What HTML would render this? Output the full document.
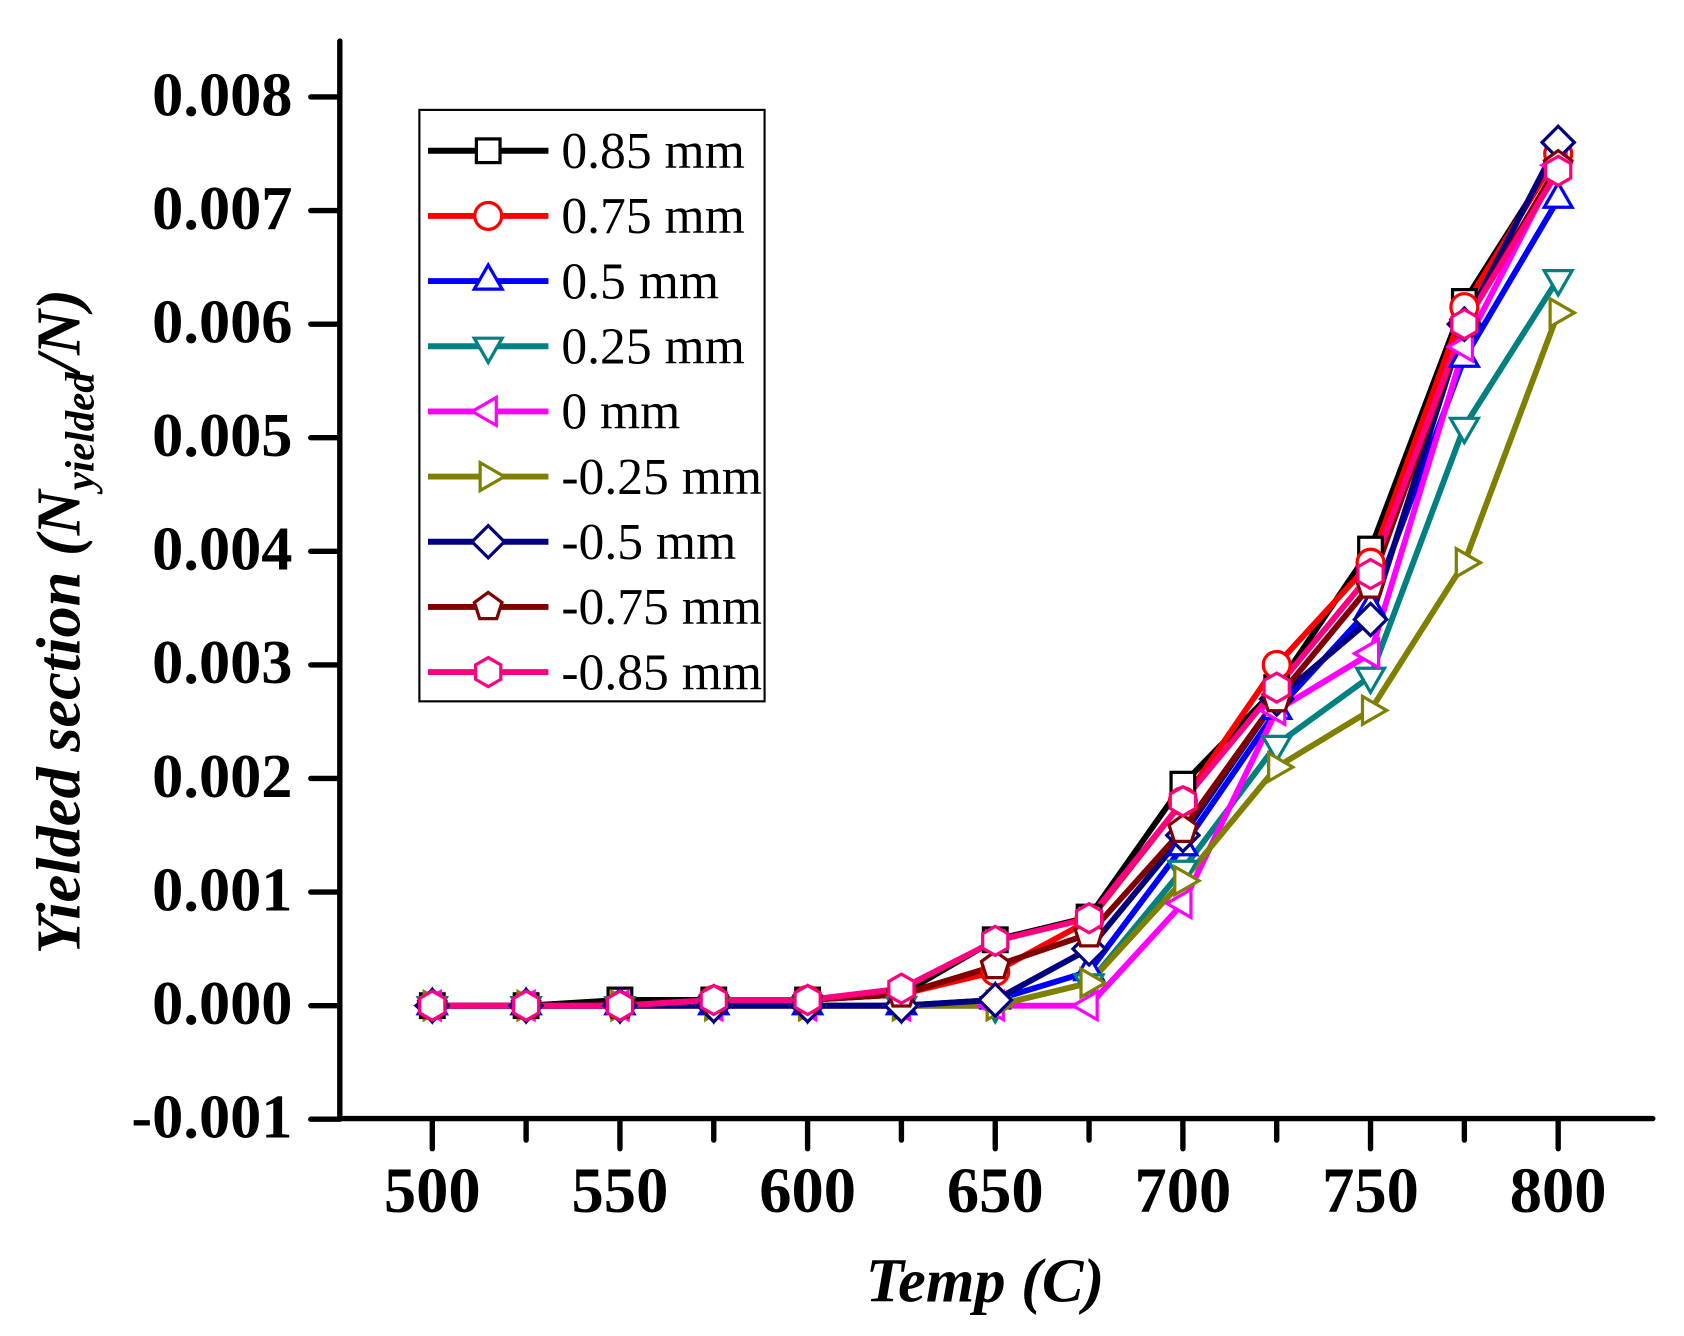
<!DOCTYPE html>
<html><head><meta charset="utf-8"><style>
html,body{margin:0;padding:0;background:#fff;}
svg{display:block;}
text{font-family:"Liberation Serif",serif;fill:#000;}
</style></head><body>
<svg id="s" width="1684" height="1336" viewBox="0 0 1566 1242" xmlns="http://www.w3.org/2000/svg">
<rect width="1566" height="1242" fill="#fff"/>
<g id="plot"></g>
<g stroke="#000" stroke-width="5" stroke-linecap="round" fill="none">
<line x1="316" y1="38" x2="316" y2="1040"/>
<line x1="316" y1="1040" x2="1537" y2="1040"/>
</g>
<g id="ticks"></g>
<text x="916" y="1210" font-size="58" font-weight="bold" font-style="italic" text-anchor="middle">Temp (C)</text>
<text transform="translate(74,578) rotate(-90)" font-size="58" font-weight="bold" font-style="italic" text-anchor="middle">Yielded section (N<tspan font-size="38" dy="13">yielded</tspan><tspan dy="-13">/N)</tspan></text>
<g id="legend"></g>
</svg>
<script>
var NS="http://www.w3.org/2000/svg";
function el(p,t,a){var e=document.createElementNS(NS,t);for(var k in a)e.setAttribute(k,a[k]);p.appendChild(e);return e;}
var T=document.getElementById("ticks");
var X=function(i){return 402+i*87.25;};
var Y=function(v){return 935-v*105625;};
for(var i=0;i<=12;i++){var x=X(i);el(T,"line",{x1:x,y1:1040,x2:x,y2:(i%2==0?1068:1060),stroke:"#000","stroke-width":5,"stroke-linecap":"round"});
 if(i%2==0){var t=el(T,"text",{x:x,y:1127,"font-size":60,"font-weight":"bold","text-anchor":"middle"});t.textContent=500+i*25;}}
for(var j=-1;j<=8;j++){var y=Y(j*0.001);el(T,"line",{x1:316,y1:y,x2:289,y2:y,stroke:"#000","stroke-width":5,"stroke-linecap":"round"});
 var t=el(T,"text",{x:272,y:y+17,"font-size":58,"font-weight":"bold","text-anchor":"end"});t.textContent=(j<0?"-":"")+Math.abs(j*0.001).toFixed(3);}
var S=[
["0.85 mm","#000000","sq",[0,0,0.00005,0.00005,0.00005,0.0001,0.00058,0.00078,0.00195,0.0028,0.00402,0.0062,0.0075]],
["0.75 mm","#ff0000","ci",[0,0,0,0.00005,0.00005,0.0001,0.0003,0.00075,0.0018,0.003,0.0039,0.00615,0.0075]],
["0.5 mm","#0000ff","tu",[0,0,0,0,0,0,0.00005,0.0003,0.0014,0.0026,0.0035,0.0057,0.0071]],
["0.25 mm","#008080","td",[0,0,0,0,0,0,0,0.0002,0.0012,0.0023,0.0029,0.0051,0.0064]],
["0 mm","#ff00ff","tl",[0,0,0,0,0,0,0,0,0.0009,0.0026,0.0031,0.0058,0.0074]],
["-0.25 mm","#808000","tr",[0,0,0,0,0,0,0,0.0002,0.0011,0.0021,0.0026,0.0039,0.0061]],
["-0.5 mm","#000080","di",[0,0,0,0,0,0,0.00005,0.0005,0.0015,0.0027,0.0034,0.0060,0.0076]],
["-0.75 mm","#800000","pe",[0,0,0,0.00005,0.00005,0.0001,0.00035,0.00063,0.00155,0.0027,0.0037,0.0060,0.0074]],
["-0.85 mm","#ff0080","hx",[0,0,0,0.00005,0.00005,0.00015,0.00057,0.00077,0.0018,0.0028,0.0038,0.0060,0.00735]]];
function poly(n,r,off){var p=[];for(var k=0;k<n;k++){var a=off+k*2*Math.PI/n;p.push([r*Math.cos(a),r*Math.sin(a)]);}return p;}
function marker(g,type,x,y,c){var a={fill:"#fff",stroke:c,"stroke-width":3};var pts;
 if(type=="sq"){a.x=x-11;a.y=y-11;a.width=22;a.height=22;el(g,"rect",a);return;}
 if(type=="ci"){a.cx=x;a.cy=y;a.r=12.5;el(g,"circle",a);return;}
 var r=15;
 if(type=="tu")pts=poly(3,r,-Math.PI/2);else if(type=="td")pts=poly(3,r,Math.PI/2);
 else if(type=="tl")pts=poly(3,r,Math.PI);else if(type=="tr")pts=poly(3,r,0);
 else if(type=="di")pts=poly(4,15,0);else if(type=="pe")pts=poly(5,13.5,-Math.PI/2);else pts=poly(6,13.5,-Math.PI/2);
 a.points=pts.map(function(p){return (x+p[0])+","+(y+p[1]);}).join(" ");el(g,"polygon",a);}
var P=document.getElementById("plot");
S.forEach(function(s){var d=s[3].map(function(v,i){return X(i)+","+Y(v);}).join(" ");
 el(P,"polyline",{points:d,fill:"none",stroke:s[1],"stroke-width":5.5,"stroke-linejoin":"round"});});
S.forEach(function(s){s[3].forEach(function(v,i){marker(P,s[2],X(i),Y(v),s[1]);});});
var L=document.getElementById("legend");
el(L,"rect",{x:390,y:102,width:321,height:550,fill:"#fff",stroke:"#000","stroke-width":2});
S.forEach(function(s,k){var y=140+k*60.6;
 el(L,"line",{x1:398,y1:y,x2:510,y2:y,stroke:s[1],"stroke-width":5.5});
 marker(L,s[2],454,y,s[1]);
 var t=el(L,"text",{x:522,y:y+16,"font-size":48});t.textContent=s[0];});
</script>
</body></html>
